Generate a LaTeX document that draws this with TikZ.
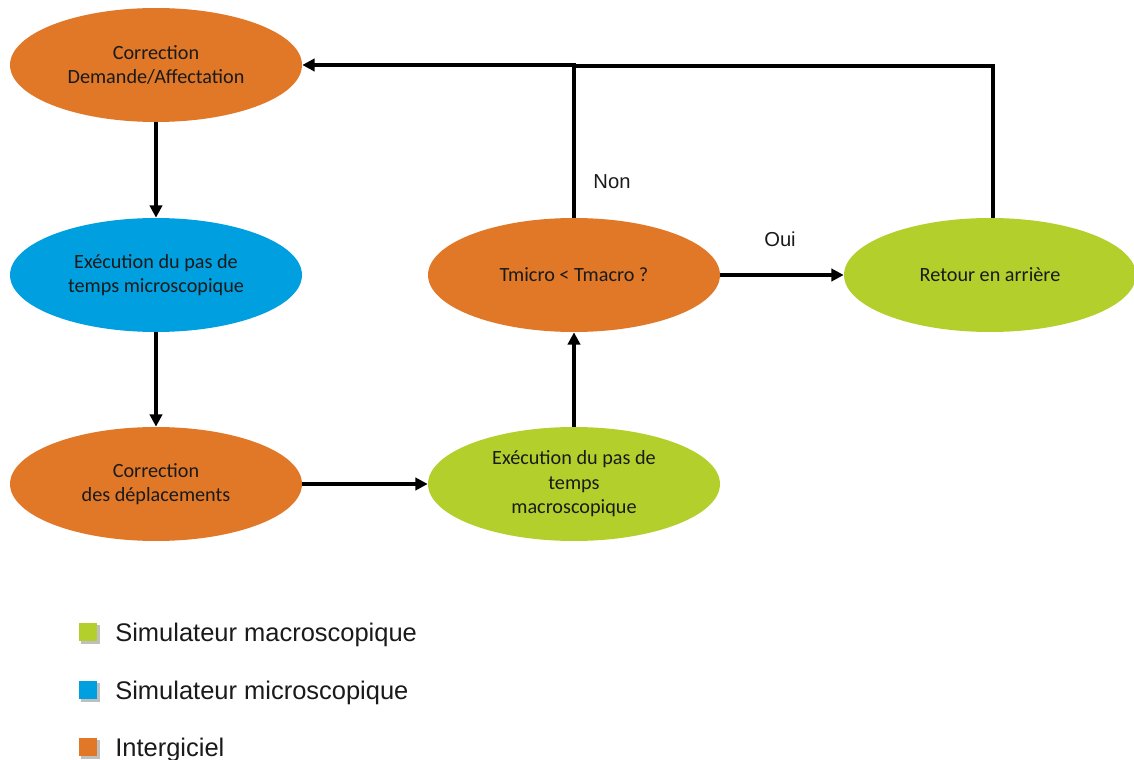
\documentclass[tikz,border=0pt]{standalone}
\usepackage{fontspec}
\setmainfont{Carlito}
\newfontfamily\arialfont{Liberation Sans}
\usetikzlibrary{shapes.geometric,arrows.meta}
\definecolor{orangeI}{HTML}{E07828}
\definecolor{blueM}{HTML}{00A0E0}
\definecolor{greenM}{HTML}{B3CF2B}
\definecolor{inkC}{HTML}{1A1A1A}
\tikzset{
  blob/.style={ellipse, minimum width=5.84cm, minimum height=2.28cm, inner sep=0pt,
    align=center, text=inkC, font=\fontsize{11.5}{14}\selectfont},
  arr/.style={line width=2pt, -{Triangle[length=7pt,width=7pt]}},
  plain/.style={line width=2pt},
  lbl/.style={font=\arialfont\fontsize{11.5}{13}\selectfont, text=inkC},
  legtext/.style={anchor=west, font=\arialfont\fontsize{14.5}{17}\selectfont, text=inkC, inner sep=0pt},
  legbox/.style={minimum size=0.38cm, inner sep=0pt}
}
\begin{document}
\begin{tikzpicture}[x=0.02cm,y=-0.02cm]
\useasboundingbox (0,0) rectangle (1134,760);

% process steps
\node[blob, fill=orangeI] (corr) at (156,65) {Correction\\Demande/Affectation};
\node[blob, fill=blueM]   (micro) at (156,275) {Exécution du pas de\\temps microscopique};
\node[blob, fill=orangeI] (depl) at (156,484) {Correction\\des déplacements};
\node[blob, fill=greenM]  (macro) at (574,484) {Exécution du pas de\\temps\\macroscopique};
\node[blob, fill=orangeI] (test) at (574,275) {Tmicro < Tmacro ?};
\node[blob, fill=greenM]  (back) at (990,275) {Retour en arrière};

% forward flow
\draw[arr] (corr) -- (micro);
\draw[arr] (micro) -- (depl);
\draw[arr] (depl) -- (macro);
\draw[arr] (macro) -- (test);
\draw[arr] (test) -- (back);

% feedback loops
\coordinate (join) at (574,66);
\coordinate (backtop) at (993,218);
\draw[arr] (test.north) |- (corr.east);
\draw[plain] (backtop) |- (join);

% branch labels
\node[lbl] (non) at (612,182) {Non};
\node[lbl] (oui) at (780,239) {Oui};

% legend
\foreach \c/\y/\t/\n in {greenM/632/Simulateur macroscopique/lgA,
                         blueM/690/Simulateur microscopique/lgB,
                         orangeI/747/Intergiciel/lgC}{
  \fill[black!25] (90,\y+2) ++(-9,-9) rectangle ++(19,19);
  \node[legbox, fill=\c] (\n) at (88,\y) {};
  \node[legtext] at (115,\y+3) {\t};
}
\end{tikzpicture}
\end{document}
